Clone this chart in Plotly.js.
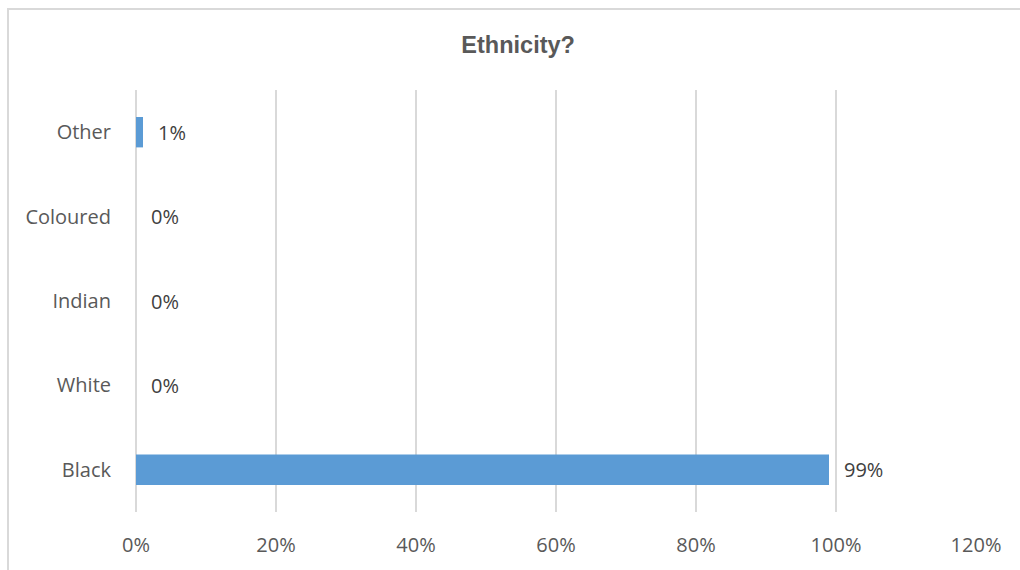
<!DOCTYPE html>
<html>
<head>
<meta charset="utf-8">
<script src="https://cdn.plot.ly/plotly-3.0.1.min.js"></script>
<style>
html,body{margin:0;padding:0;background:#fff;overflow:hidden;}
#frame{position:absolute;left:7px;top:8px;width:1100px;height:600px;border-left:2px solid #d9d9d9;border-top:2px solid #d9d9d9;}
#chart{position:absolute;left:0;top:0;width:1020px;height:570px;}
</style>
</head>
<body>
<div id="frame"></div>
<div id="chart"></div>
<script>
const categories = ["Black", "White", "Indian", "Coloured", "Other"];
const values = [0.99, 0, 0, 0, 0.01];
const labels = ["99%", "0%", "0%", "0%", "1%"];
const tickVals = [0, 0.2, 0.4, 0.6, 0.8, 1.0, 1.2];
const tickText = ["0%", "20%", "40%", "60%", "80%", "100%", "120%"];

const font = "Open Sans, Noto Sans, sans-serif";
const trace = {
  type: "bar",
  orientation: "h",
  y: categories,
  x: values,
  marker: {color: "#5b9bd5"},
  width: 0.36,
  hoverinfo: "none"
};
const annotations = categories.map((c, i) => ({
  x: values[i], y: c, xref: "x", yref: "y",
  text: labels[i], showarrow: false, xanchor: "left", xshift: 13,
  font: {family: font, size: 20, color: "#404040"}
}));
const layout = {
  width: 1020, height: 570,
  paper_bgcolor: "rgba(0,0,0,0)", plot_bgcolor: "rgba(0,0,0,0)",
  margin: {l: 136, r: 44, t: 90, b: 58},
  title: {text: "<b>Ethnicity?</b>", x: 0.508, xanchor: "center", y: 0.921, yanchor: "middle",
    font: {family: "Liberation Sans, Arial, sans-serif", size: 23.5, color: "#595959"}},
  xaxis: {range: [0, 1.2], tickvals: tickVals, ticktext: tickText,
    showgrid: true, gridcolor: "#d9d9d9", gridwidth: 2, zeroline: true, zerolinecolor: "#d9d9d9", zerolinewidth: 2,
    showline: false, ticks: "outside", ticklen: 15, tickcolor: "rgba(0,0,0,0)",
    tickfont: {family: font, size: 20, color: "#595959"}, fixedrange: true},
  yaxis: {categoryorder: "array", categoryarray: categories, showgrid: false, zeroline: false, showline: false,
    ticks: "outside", ticklen: 20, tickcolor: "rgba(0,0,0,0)",
    tickfont: {family: font, size: 20, color: "#595959"}, fixedrange: true},
  showlegend: false,
  annotations: annotations
};
Plotly.newPlot("chart", [trace], layout, {displayModeBar: false, staticPlot: true});
</script>
</body>
</html>
